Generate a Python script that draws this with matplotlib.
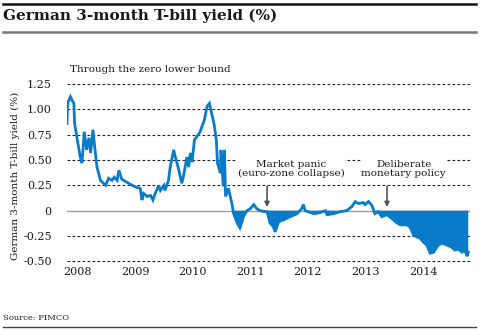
import matplotlib
matplotlib.use("Agg")
import matplotlib.pyplot as plt
import numpy as np

# ---- data (decimal year, yield %) ----
years = [2007.82, 2007.83, 2007.88, 2007.91, 2007.94, 2007.95, 2007.99, 2008.05, 2008.08,
         2008.12, 2008.16, 2008.20, 2008.23, 2008.27, 2008.30, 2008.34, 2008.40, 2008.49,
         2008.54, 2008.60, 2008.64, 2008.69, 2008.72, 2008.77, 2008.86, 2008.95, 2009.03,
         2009.09, 2009.12, 2009.15, 2009.21, 2009.27, 2009.31, 2009.35, 2009.41, 2009.44,
         2009.50, 2009.52, 2009.58, 2009.61, 2009.67, 2009.70, 2009.76, 2009.81, 2009.84,
         2009.90, 2009.93, 2009.96, 2009.99, 2010.03, 2010.07, 2010.13, 2010.16, 2010.20,
         2010.25, 2010.29, 2010.33, 2010.37, 2010.41, 2010.43, 2010.48, 2010.49, 2010.53,
         2010.55, 2010.57, 2010.62, 2010.68, 2010.71, 2010.77, 2010.82, 2010.85, 2010.88,
         2010.94, 2011.00, 2011.06, 2011.11, 2011.17, 2011.26, 2011.29, 2011.34, 2011.40,
         2011.43, 2011.46, 2011.49, 2011.58, 2011.69, 2011.81, 2011.89, 2011.92, 2011.95,
         2012.10, 2012.21, 2012.30, 2012.33, 2012.44, 2012.56, 2012.67, 2012.76, 2012.82,
         2012.88, 2012.96, 2012.99, 2013.05, 2013.11, 2013.16, 2013.22, 2013.28, 2013.37,
         2013.48, 2013.54, 2013.60, 2013.71, 2013.77, 2013.83, 2013.89, 2013.94, 2014.00,
         2014.06, 2014.12, 2014.18, 2014.26, 2014.32, 2014.41, 2014.49, 2014.55, 2014.61,
         2014.67, 2014.72, 2014.76, 2014.78]
yields = [0.86, 1.06, 1.125, 1.09, 1.06, 0.87, 0.73, 0.53, 0.47,
          0.78, 0.60, 0.72, 0.57, 0.80, 0.63, 0.43, 0.30, 0.25,
          0.32, 0.30, 0.33, 0.30, 0.40, 0.31, 0.28, 0.25, 0.23,
          0.22, 0.105, 0.17, 0.14, 0.15, 0.105, 0.17, 0.25, 0.20,
          0.25, 0.20, 0.30, 0.43, 0.60, 0.53, 0.40, 0.27, 0.34,
          0.53, 0.43, 0.57, 0.48, 0.70, 0.73, 0.78, 0.83, 0.89,
          1.03, 1.06, 0.96, 0.86, 0.70, 0.47, 0.37, 0.60, 0.24,
          0.60, 0.14, 0.22, 0.07, -0.03, -0.12, -0.17, -0.12, -0.06,
          0.00, 0.02, 0.06, 0.02, 0.00, -0.01, -0.01, -0.12, -0.16,
          -0.21, -0.16, -0.11, -0.09, -0.06, -0.03, 0.02, 0.06, 0.00,
          -0.03, -0.02, 0.00, -0.04, -0.03, -0.01, 0.00, 0.04, 0.09,
          0.07, 0.08, 0.06, 0.09, 0.05, -0.03, -0.01, -0.06, -0.04,
          -0.09, -0.12, -0.14, -0.14, -0.16, -0.24, -0.26, -0.27, -0.31,
          -0.34, -0.42, -0.41, -0.34, -0.32, -0.34, -0.36, -0.39, -0.38,
          -0.41, -0.39, -0.45, -0.41]

ytick_vals = [-0.5, -0.25, 0, 0.25, 0.5, 0.75, 1.0, 1.25]
ytick_labels = ["-0.50", "-0.25", "0", "0.25", "0.50", "0.75", "1.00", "1.25"]
xtick_vals = [2008, 2009, 2010, 2011, 2012, 2013, 2014]
xtick_labels = ["2008", "2009", "2010", "2011", "2012", "2013", "2014"]

title = "German 3-month T-bill yield (%)"
subtitle = "Through the zero lower bound"
ylabel = "German 3-month T-bill yield (%)"
source = "Source: PIMCO"
ann1 = ("Market panic\n(euro-zone collapse)", 2011.29)
ann2 = ("Deliberate\nmonetary policy", 2013.37)

BLUE = "#0a7bc8"
TXT = "#1a1a1a"
FONT = "DejaVu Serif"
plt.rcParams["font.family"] = FONT

W, H = 480, 331
fig = plt.figure(figsize=(W / 100, H / 100), dpi=100)

# axes position in pixels
ax_left, ax_right = 67, 470
ax_top, ax_bot = 82.1, 263.3
ax = fig.add_axes([ax_left / W, 1 - ax_bot / H, (ax_right - ax_left) / W, (ax_bot - ax_top) / H])

x = np.array(years)
y = np.array(yields)
ax.fill_between(x, y, 0, where=(y < 0), interpolate=True, color=BLUE, lw=0, zorder=3)
ax.plot(x, y, color=BLUE, lw=2.0, zorder=4, solid_joinstyle="miter")

ax.set_xlim(2007.82, 2014.81)
ax.set_ylim(-0.52, 1.27)
for v in ytick_vals:
    if v == 0:
        ax.axhline(v, color="#9a9a9a", lw=1.0, zorder=2)
    else:
        ax.axhline(v, color="#222222", lw=0.8, ls=(0, (2.5, 2.0)), zorder=1)

ax.set_yticks(ytick_vals)
ax.set_yticklabels(ytick_labels)
ax.set_xticks(xtick_vals)
ax.set_xticklabels(xtick_labels)
ax.tick_params(axis="both", length=0, labelsize=8, colors=TXT)
ax.tick_params(axis="y", pad=11)
ax.tick_params(axis="x", pad=3)
for s in ax.spines.values():
    s.set_visible(False)
ax.set_ylabel(ylabel, fontsize=7.5, color=TXT)
ax.yaxis.set_label_coords(-0.117, 0.48)

# annotations
for text, xv in [ann1, ann2]:
    ax.annotate("", xy=(xv, 0.035), xytext=(xv, 0.24),
                arrowprops=dict(arrowstyle="-|>", color="#555555", lw=1.2,
                                mutation_scale=7, shrinkA=0, shrinkB=0), zorder=5)
box = dict(facecolor="white", edgecolor="none", pad=0.5)
ax.text(2011.71, 0.41, ann1[0], ha="center", va="center", fontsize=7.5,
        color=TXT, linespacing=1.0, zorder=6, bbox=box)
ax.text(2013.66, 0.41, ann2[0], ha="center", va="center", fontsize=7.5,
        color=TXT, linespacing=1.0, zorder=6, bbox=box)

# header / footer
fig.add_artist(plt.Line2D([3 / W, 476 / W], [1 - 3.5 / H, 1 - 3.5 / H], color="#111111", lw=1.8))
fig.add_artist(plt.Line2D([3 / W, 476 / W], [1 - 32 / H, 1 - 32 / H], color="#7a7a7a", lw=1.8))
fig.add_artist(plt.Line2D([3 / W, 476 / W], [1 - 326.5 / H, 1 - 326.5 / H], color="#444444", lw=1.0))
fig.text(3 / W, 1 - 16 / H, title, fontsize=11, fontweight="bold", ha="left", va="center", color=TXT)
fig.text(70 / W, 1 - 70 / H, subtitle, fontsize=7.5, ha="left", va="center", color=TXT)
fig.text(3 / W, 1 - 318 / H, source, fontsize=6, ha="left", va="center", color=TXT)

fig.savefig("out.png", dpi=100)
